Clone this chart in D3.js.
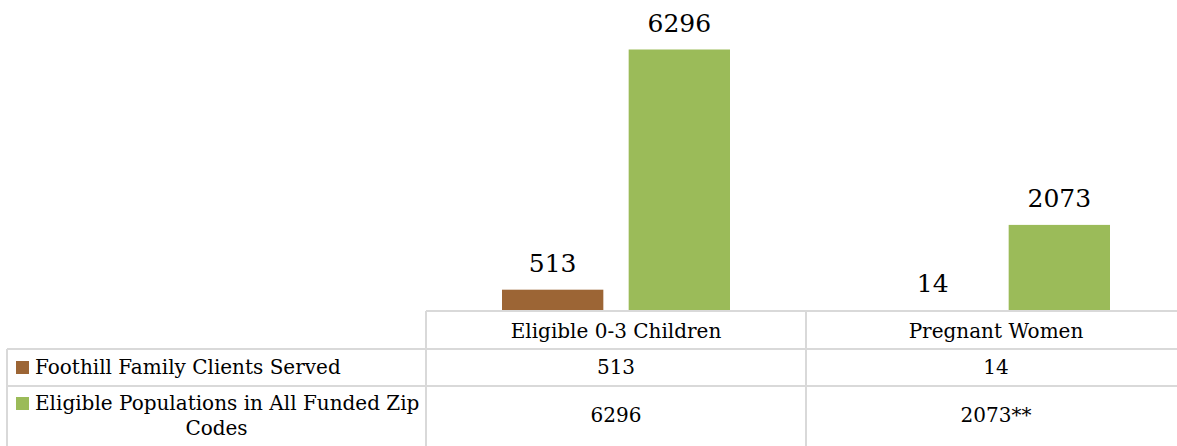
<!DOCTYPE html>
<html>
<head>
<meta charset="utf-8">
<script src="https://cdn.jsdelivr.net/npm/d3@7"></script>
<style>
  body { margin: 0; background: #fff; }
  svg { display: block; }
  text { font-family: "DejaVu Serif", serif; fill: #000; }
</style>
</head>
<body>
<div id="chart"></div>
<script>
const categories = ['Eligible 0-3 Children', 'Pregnant Women'];
const seriesNames = ['Foothill Family Clients Served', 'Eligible Populations in All Funded Zip Codes'];
const clientsServed = [513, 14];
const eligiblePop = [6296, 2073];
const tableClients = ['513', '14'];
const tablePop = ['6296', '2073**'];
const colors = ['#9c6535', '#9bbb59'];

const width = 1177, height = 446;
const baseline = 311;
const legendLeft = 7, plotLeft = 426;

const svg = d3.select('#chart').append('svg').attr('width', width).attr('height', height);

// scales
const x0 = d3.scaleBand().domain(categories).range([plotLeft, plotLeft + 2 * 380]).padding(0);
const x1 = d3.scaleBand().domain([0, 1]).range([76, 304]).paddingInner(0.2).paddingOuter(0);
const y = d3.scaleLinear().domain([0, 6296]).range([baseline, 49.5]);

const series = [clientsServed, eligiblePop];

// bars
series.forEach((vals, s) => {
	svg
		.selectAll('.bar' + s)
		.data(categories)
		.enter()
		.append('rect')
		.attr('x', (d) => x0(d) + x1(s))
		.attr('y', (d, i) => y(vals[i]))
		.attr('width', x1.bandwidth())
		.attr('height', (d, i) => baseline - y(vals[i]))
		.attr('fill', colors[s]);

	svg
		.selectAll('.label' + s)
		.data(categories)
		.enter()
		.append('text')
		.attr('x', (d) => x0(d) + x1(s) + x1.bandwidth() / 2)
		.attr('y', (d, i) => y(vals[i]) - 18)
		.attr('text-anchor', 'middle')
		.style('font-size', '25px')
		.text((d, i) => vals[i]);
});

// data table grid
const grid = svg.append('g').attr('stroke', '#d9d9d9').attr('stroke-width', 2);
const rows = [baseline, 349, 386];
grid.append('line').attr('x1', plotLeft).attr('x2', width).attr('y1', rows[0]).attr('y2', rows[0]);
grid.append('line').attr('x1', legendLeft).attr('x2', width).attr('y1', rows[1]).attr('y2', rows[1]);
grid.append('line').attr('x1', legendLeft).attr('x2', width).attr('y1', rows[2]).attr('y2', rows[2]);
grid.append('line').attr('x1', legendLeft).attr('x2', legendLeft).attr('y1', rows[1]).attr('y2', height);
categories.forEach((c) => {
	grid.append('line').attr('x1', x0(c)).attr('x2', x0(c)).attr('y1', rows[0]).attr('y2', height);
});

const tableFont = '20px';

// header row
svg
	.selectAll('.head')
	.data(categories)
	.enter()
	.append('text')
	.attr('x', (d) => x0(d) + x0.bandwidth() / 2)
	.attr('y', 338)
	.attr('text-anchor', 'middle')
	.style('font-size', tableFont)
	.text((d) => d);

// value rows
[tableClients, tablePop].forEach((vals, s) => {
	svg
		.selectAll('.cell' + s)
		.data(categories)
		.enter()
		.append('text')
		.attr('x', (d) => x0(d) + x0.bandwidth() / 2)
		.attr('y', s === 0 ? 374 : 422)
		.attr('text-anchor', 'middle')
		.style('font-size', tableFont)
		.text((d, i) => vals[i]);
});

// legend keys
svg.append('rect').attr('x', 16).attr('y', 361).attr('width', 13).attr('height', 13).attr('fill', colors[0]);
svg.append('text').attr('x', 35).attr('y', 374).style('font-size', tableFont).text(seriesNames[0]);

svg.append('rect').attr('x', 16).attr('y', 397).attr('width', 13).attr('height', 13).attr('fill', colors[1]);
svg.append('text').attr('x', 35).attr('y', 410).style('font-size', tableFont).text('Eligible Populations in All Funded Zip');
svg
	.append('text')
	.attr('x', (legendLeft + plotLeft) / 2)
	.attr('y', 435)
	.attr('text-anchor', 'middle')
	.style('font-size', tableFont)
	.text('Codes');
</script>
</body>
</html>
